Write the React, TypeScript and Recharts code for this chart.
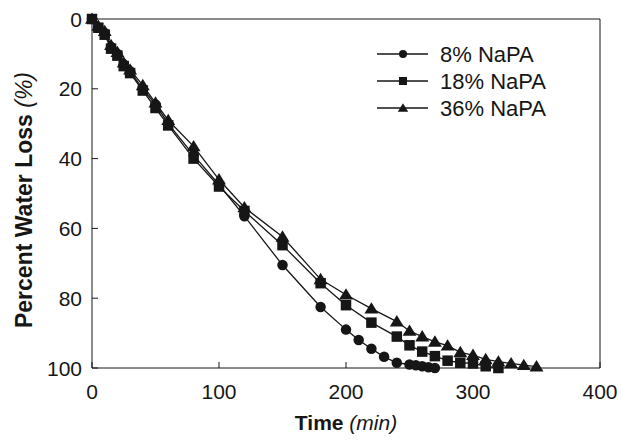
import React from "react";
import { LineChart, Line, XAxis, YAxis, ReferenceLine } from "recharts";

// time (min) and percent water loss for each NaPA content
const time8 = [0, 5, 10, 15, 20, 25, 30, 40, 50, 60, 80, 100, 120, 150, 180, 200, 210, 220, 230, 240, 250, 255, 260, 265, 270];
const loss8 = [0, 2.5, 4, 8, 10, 13, 15, 20, 24.5, 30, 39, 47.5, 56.5, 70.5, 82.5, 89, 92, 94.5, 96.8, 98.5, 99, 99.2, 99.5, 99.8, 100];

const time18 = [0, 5, 10, 15, 20, 25, 30, 40, 50, 60, 80, 100, 120, 150, 180, 200, 220, 240, 250, 260, 270, 280, 290, 300, 310, 320];
const loss18 = [0, 2.5, 4.5, 8.5, 10.5, 13.5, 15.5, 20.5, 25.5, 30.5, 40, 48, 55, 64.8, 75.7, 82, 87, 91, 93.5, 95.3, 96.6, 97.9, 98.5, 98.7, 99.5, 100];

const time36 = [0, 5, 10, 15, 20, 25, 30, 40, 50, 60, 80, 100, 120, 150, 180, 200, 220, 240, 250, 260, 270, 280, 290, 300, 310, 320, 330, 340, 350];
const loss36 = [0, 2, 3.5, 7.5, 9.5, 12.5, 14.5, 19, 24, 29, 36.5, 46, 54, 62.4, 74.6, 79, 83, 86.7, 89.4, 91, 92.5, 93.6, 95.5, 96.3, 97.5, 98.2, 98.7, 99.2, 99.6];

const xTicks = [0, 100, 200, 300, 400];
const yTicks = [0, 20, 40, 60, 80, 100];

const seriesNames = ["8% NaPA", "18% NaPA", "36% NaPA"];

const toPoints = (t: number[], v: number[]) => t.map((time, i) => ({ time, loss: v[i] }));

const ink = "#161616";
const font = "'Liberation Sans', Arial, Helvetica, sans-serif";

const Marker = ({ kind, cx, cy, s }: { kind: string; cx: number; cy: number; s: number }) => {
  if (kind === "circle") return <circle cx={cx} cy={cy} r={s / 2} fill={ink} />;
  if (kind === "square") return <rect x={cx - s / 2} y={cy - s / 2} width={s} height={s} fill={ink} />;
  const h = s * 0.9;
  return (
    <polygon
      points={`${cx},${cy - h * 0.6} ${cx + s * 0.58},${cy + h * 0.45} ${cx - s * 0.58},${cy + h * 0.45}`}
      fill={ink}
    />
  );
};

const dotFor = (kind: string) => (props: any) => (
  <Marker key={`${kind}-${props.index}`} kind={kind} cx={props.cx} cy={props.cy} s={kind === "triangle" ? 12 : 10.5} />
);

const YTick = ({ x, y, payload }: any) => (
  <g>
    <line x1={x} x2={x + 6} y1={y} y2={y} stroke={ink} strokeWidth={1} />
    <text x={x - 10} y={y} textAnchor="end" dominantBaseline="central" fontSize={21} fontFamily={font} fill={ink}>
      {payload.value}
    </text>
  </g>
);

const XTick = ({ x, y, payload }: any) => (
  <g>
    <line x1={x} x2={x} y1={y} y2={y - 6} stroke={ink} strokeWidth={1} />
    <text x={x} y={y + 23} textAnchor="middle" dominantBaseline="central" fontSize={21} fontFamily={font} fill={ink}>
      {payload.value}
    </text>
  </g>
);

export default function App() {
  const kinds = ["circle", "square", "triangle"];
  return (
    <div style={{ position: "absolute", left: 0, top: 0, width: 621, height: 442, background: "#fff" }}>
      <LineChart width={621} height={442} margin={{ top: 19, right: 21, bottom: 0, left: 0 }}>
        <XAxis
          dataKey="time"
          type="number"
          domain={[0, 400]}
          ticks={xTicks}
          height={74}
          tickSize={0}
          tickMargin={0}
          tickLine={false}
          tick={<XTick />}
          axisLine={{ stroke: ink }}
          interval={0}
        />
        <YAxis
          type="number"
          reversed
          domain={[0, 100]}
          ticks={yTicks}
          width={92}
          tickSize={0}
          tickMargin={0}
          tickLine={false}
          tick={<YTick />}
          axisLine={{ stroke: ink }}
          interval={0}
        />
        <ReferenceLine y={0} stroke={ink} strokeWidth={1} />
        <ReferenceLine x={400} stroke={ink} strokeWidth={1} />
        <Line data={toPoints(time8, loss8)} dataKey="loss" name={seriesNames[0]} stroke={ink} strokeWidth={1.3} dot={dotFor("circle")} isAnimationActive={false} type="linear" />
        <Line data={toPoints(time18, loss18)} dataKey="loss" name={seriesNames[1]} stroke={ink} strokeWidth={1.3} dot={dotFor("square")} isAnimationActive={false} type="linear" />
        <Line data={toPoints(time36, loss36)} dataKey="loss" name={seriesNames[2]} stroke={ink} strokeWidth={1.3} dot={dotFor("triangle")} isAnimationActive={false} type="linear" />
      </LineChart>
      <svg width={621} height={442} style={{ position: "absolute", left: 0, top: 0, pointerEvents: "none" }}>
        {seriesNames.map((name, i) => {
          const y = 54 + i * 27;
          return (
            <g key={name}>
              <line x1={377} x2={428} y1={y} y2={y} stroke={ink} strokeWidth={1.3} />
              <Marker kind={kinds[i]} cx={403} cy={y} s={kinds[i] === "triangle" ? 9 : 8} />
              <text x={440} y={y} dominantBaseline="central" fontSize={22} fontFamily={font} fill={ink}>
                {name}
              </text>
            </g>
          );
        })}
        <text
          transform="translate(24,200) rotate(-90)"
          textAnchor="middle"
          dominantBaseline="central"
          fontSize={23}
          fontFamily={font}
          fill={ink}
        >
          <tspan fontWeight="bold">Percent Water Loss </tspan>
          <tspan fontStyle="italic">(%)</tspan>
        </text>
        <text x={346} y={422} textAnchor="middle" dominantBaseline="central" fontSize={21} fontFamily={font} fill={ink}>
          <tspan fontWeight="bold">Time </tspan>
          <tspan fontStyle="italic">(min)</tspan>
        </text>
      </svg>
    </div>
  );
}
